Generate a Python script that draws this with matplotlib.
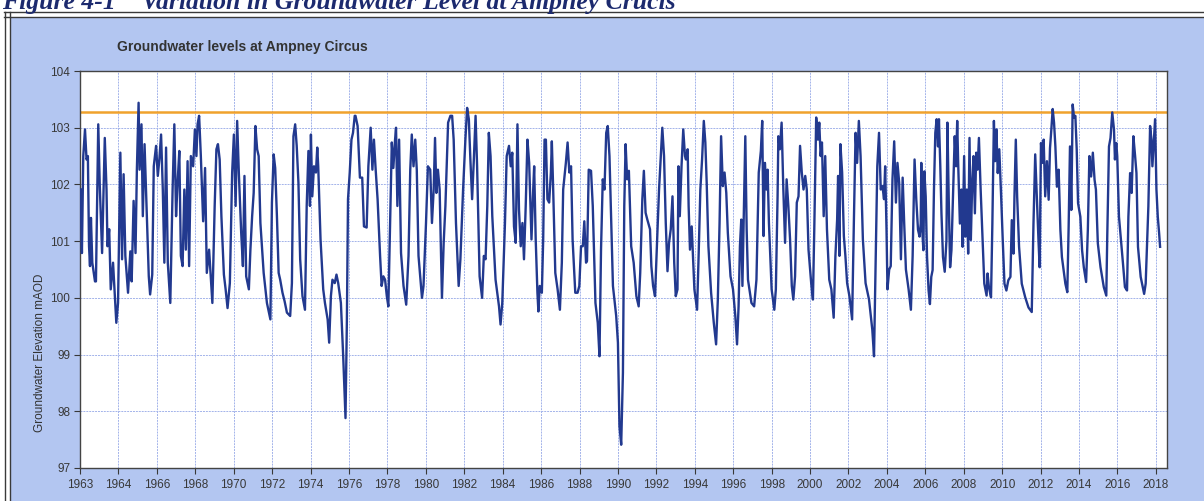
import matplotlib.pyplot as plt
from matplotlib.patches import Rectangle
from matplotlib.lines import Line2D
import numpy as np

# groundwater level readings (decimal year, m AOD)
years = [
    1962.03, 1962.10, 1962.17, 1962.26, 1962.34, 1962.41, 1962.47, 1962.52, 1962.57, 1962.64,
    1962.78, 1962.83, 1962.95, 1963.03, 1963.15, 1963.29, 1963.38, 1963.43, 1963.52, 1963.60,
    1963.72, 1963.89, 1963.98, 1964.10, 1964.19, 1964.27, 1964.36, 1964.50, 1964.62, 1964.69,
    1964.79, 1964.89, 1964.96, 1965.05, 1965.10, 1965.20, 1965.27, 1965.36, 1965.45, 1965.58,
    1965.65, 1965.76, 1965.84, 1965.96, 1966.05, 1966.13, 1966.22, 1966.31, 1966.39, 1966.48,
    1966.57, 1966.70, 1966.82, 1966.91, 1967.00, 1967.08, 1967.17, 1967.25, 1967.34, 1967.43,
    1967.51, 1967.60, 1967.68, 1967.77, 1967.89, 1967.98, 1968.06, 1968.12, 1968.20, 1968.29,
    1968.41, 1968.51, 1968.60, 1968.72, 1968.89, 1969.01, 1969.10, 1969.18, 1969.27, 1969.36,
    1969.49, 1969.58, 1969.68, 1969.80, 1969.92, 1970.01, 1970.10, 1970.18, 1970.27, 1970.39,
    1970.48, 1970.56, 1970.65, 1970.79, 1970.87, 1970.96, 1971.04, 1971.13, 1971.22, 1971.30,
    1971.39, 1971.56, 1971.73, 1971.91, 1971.99, 1972.08, 1972.16, 1972.25, 1972.34, 1972.42,
    1972.54, 1972.65, 1972.77, 1972.94, 1973.03, 1973.11, 1973.20, 1973.28, 1973.37, 1973.46,
    1973.58, 1973.71, 1973.80, 1973.89, 1973.97, 1974.02, 1974.09, 1974.18, 1974.28, 1974.35,
    1974.40, 1974.52, 1974.66, 1974.75, 1974.89, 1974.97, 1975.06, 1975.14, 1975.26, 1975.35,
    1975.44, 1975.58, 1975.70, 1975.82, 1975.89, 1975.95, 1976.04, 1976.13, 1976.21, 1976.30,
    1976.34, 1976.45, 1976.57, 1976.69, 1976.78, 1976.92, 1977.01, 1977.13, 1977.22, 1977.30,
    1977.39, 1977.49, 1977.62, 1977.70, 1977.79, 1977.88, 1977.97, 1978.05, 1978.14, 1978.23,
    1978.31, 1978.40, 1978.45, 1978.52, 1978.61, 1978.71, 1978.84, 1978.98, 1979.10, 1979.19,
    1979.27, 1979.36, 1979.45, 1979.53, 1979.62, 1979.80, 1979.88, 1980.01, 1980.11, 1980.23,
    1980.32, 1980.41, 1980.48, 1980.55, 1980.63, 1980.72, 1980.84, 1980.93, 1981.02, 1981.16,
    1981.28, 1981.37, 1981.45, 1981.57, 1981.71, 1981.80, 1981.94, 1982.06, 1982.15, 1982.24,
    1982.32, 1982.41, 1982.50, 1982.59, 1982.67, 1982.80, 1982.93, 1983.02, 1983.11, 1983.20,
    1983.28, 1983.37, 1983.46, 1983.63, 1983.81, 1983.89, 1983.98, 1984.12, 1984.21, 1984.33,
    1984.42, 1984.50, 1984.59, 1984.68, 1984.77, 1984.85, 1984.94, 1985.03, 1985.11, 1985.20,
    1985.29, 1985.38, 1985.50, 1985.59, 1985.64, 1985.72, 1985.81, 1985.86, 1985.93, 1986.04,
    1986.11, 1986.18, 1986.25, 1986.33, 1986.42, 1986.51, 1986.56, 1986.63, 1986.74, 1986.86,
    1986.98, 1987.08, 1987.15, 1987.29, 1987.38, 1987.47, 1987.56, 1987.64, 1987.78, 1987.90,
    1987.99, 1988.08, 1988.17, 1988.25, 1988.34, 1988.39, 1988.48, 1988.60, 1988.69, 1988.83,
    1988.95, 1989.04, 1989.12, 1989.21, 1989.30, 1989.39, 1989.47, 1989.56, 1989.74, 1989.91,
    1990.00, 1990.08, 1990.17, 1990.26, 1990.33, 1990.40, 1990.48, 1990.57, 1990.69, 1990.82,
    1990.96, 1991.08, 1991.16, 1991.27, 1991.35, 1991.44, 1991.53, 1991.67, 1991.74, 1991.83,
    1991.93, 1992.02, 1992.14, 1992.23, 1992.31, 1992.40, 1992.49, 1992.58, 1992.66, 1992.75,
    1992.84, 1992.93, 1993.01, 1993.10, 1993.15, 1993.22, 1993.31, 1993.40, 1993.49, 1993.54,
    1993.63, 1993.68, 1993.75, 1993.84, 1993.98, 1994.12, 1994.20, 1994.29, 1994.38, 1994.47,
    1994.55, 1994.62, 1994.71, 1994.85, 1994.99, 1995.11, 1995.20, 1995.29, 1995.37, 1995.46,
    1995.55, 1995.64, 1995.72, 1995.86, 1995.99, 1996.11, 1996.20, 1996.28, 1996.35, 1996.42,
    1996.48, 1996.56, 1996.63, 1996.70, 1996.77, 1996.95, 1997.09, 1997.21, 1997.33, 1997.44,
    1997.51, 1997.58, 1997.65, 1997.73, 1997.79, 1997.86, 1998.00, 1998.14, 1998.22, 1998.31,
    1998.35, 1998.43, 1998.52, 1998.61, 1998.70, 1998.78, 1998.87, 1998.96, 1999.05, 1999.13,
    1999.22, 1999.31, 1999.40, 1999.48, 1999.57, 1999.66, 1999.75, 1999.83, 1999.92, 2000.06,
    2000.15, 2000.22, 2000.32, 2000.41, 2000.48, 2000.55, 2000.62, 2000.71, 2000.79, 2000.88,
    2001.00, 2001.11, 2001.23, 2001.32, 2001.41, 2001.46, 2001.53, 2001.58, 2001.67, 2001.76,
    2001.84, 2001.93, 2002.05, 2002.19, 2002.28, 2002.37, 2002.45, 2002.54, 2002.63, 2002.75,
    2002.89, 2003.07, 2003.24, 2003.33, 2003.42, 2003.50, 2003.59, 2003.68, 2003.77, 2003.85,
    2003.91, 2003.98, 2004.03, 2004.12, 2004.20, 2004.29, 2004.38, 2004.47, 2004.55, 2004.64,
    2004.73, 2004.82, 2004.90, 2004.99, 2005.13, 2005.25, 2005.34, 2005.44, 2005.53, 2005.62,
    2005.70, 2005.76, 2005.79, 2005.84, 2005.90, 2005.95, 2006.02, 2006.09, 2006.17, 2006.24,
    2006.31, 2006.38, 2006.45, 2006.52, 2006.59, 2006.66, 2006.71, 2006.78, 2006.84, 2006.92,
    2007.01, 2007.10, 2007.15, 2007.22, 2007.29, 2007.36, 2007.45, 2007.50, 2007.53, 2007.60,
    2007.66, 2007.71, 2007.80, 2007.88, 2007.94, 2008.02, 2008.09, 2008.16, 2008.23, 2008.30,
    2008.37, 2008.44, 2008.51, 2008.58, 2008.65, 2008.72, 2008.79, 2008.88, 2008.98, 2009.07,
    2009.19, 2009.24, 2009.31, 2009.42, 2009.49, 2009.57, 2009.63, 2009.70, 2009.77, 2009.85,
    2009.94, 2010.03, 2010.12, 2010.22, 2010.32, 2010.43, 2010.50, 2010.59, 2010.64, 2010.71,
    2010.78, 2010.88, 2011.02, 2011.20, 2011.37, 2011.54, 2011.63, 2011.72, 2011.81, 2011.89,
    2011.95, 2012.02, 2012.10, 2012.16, 2012.24, 2012.33, 2012.42, 2012.49, 2012.56, 2012.63,
    2012.70, 2012.77, 2012.85, 2012.94, 2013.03, 2013.11, 2013.29, 2013.39, 2013.46, 2013.53,
    2013.60, 2013.67, 2013.74, 2013.81, 2013.88, 2013.95, 2014.07, 2014.16, 2014.25, 2014.37,
    2014.46, 2014.54, 2014.63, 2014.72, 2014.81, 2014.88, 2014.98, 2015.12, 2015.29, 2015.42,
    2015.47, 2015.56, 2015.64, 2015.73, 2015.82, 2015.87, 2015.94, 2015.99, 2016.08, 2016.17,
    2016.29, 2016.39, 2016.50, 2016.57, 2016.66, 2016.74, 2016.83, 2016.92, 2016.99, 2017.07,
    2017.21, 2017.39, 2017.47, 2017.61, 2017.70, 2017.77, 2017.82, 2017.89, 2017.96, 2018.03,
    2018.10, 2018.17, 2018.22,
]
levels = [
    101.91, 100.79, 102.50, 102.97, 102.44, 102.50, 100.91, 100.56, 101.41, 100.62,
    100.29, 100.29, 103.06, 101.97, 100.79, 102.82, 101.91, 100.91, 101.21, 100.15,
    100.62, 99.56, 99.91, 102.56, 100.68, 102.18, 100.74, 100.09, 100.82, 100.29,
    101.71, 100.79, 102.26, 103.44, 102.26, 103.06, 101.44, 102.71, 101.74, 100.38,
    100.06, 100.41, 102.32, 102.68, 102.15, 102.44, 102.88, 101.91, 100.62, 102.65,
    100.62, 99.91, 101.91, 103.06, 101.44, 102.03, 102.59, 100.74, 100.56, 101.91,
    100.85, 102.41, 100.56, 102.50, 102.32, 102.97, 102.50, 103.06, 103.21, 102.50,
    101.35, 102.29, 100.44, 100.85, 99.91, 101.62, 102.62, 102.71, 102.44, 101.44,
    100.41, 100.15, 99.82, 100.26, 102.21, 102.88, 101.62, 103.12, 102.18, 101.15,
    100.56, 102.15, 100.38, 100.15, 100.85, 101.44, 101.85, 103.03, 102.62, 102.50,
    101.32, 100.44, 99.91, 99.62, 101.68, 102.53, 102.29, 101.44, 100.44, 100.32,
    100.09, 99.94, 99.74, 99.68, 100.26, 102.85, 103.06, 102.68, 102.03, 100.68,
    100.03, 99.79, 101.62, 102.59, 101.62, 102.88, 101.79, 102.32, 102.21, 102.65,
    102.32, 101.03, 100.15, 99.91, 99.62, 99.21, 100.03, 100.32, 100.26, 100.41,
    100.26, 99.91, 98.97, 97.88, 99.56, 101.74, 102.21, 102.79, 102.91, 103.21,
    103.21, 103.03, 102.12, 102.12, 101.26, 101.24, 102.32, 103.00, 102.26, 102.79,
    102.26, 101.74, 100.74, 100.21, 100.38, 100.32, 100.03, 99.85, 101.32, 102.74,
    102.29, 102.79, 103.00, 101.62, 102.79, 100.79, 100.21, 99.88, 100.74, 102.26,
    102.88, 102.32, 102.79, 102.26, 100.74, 100.00, 100.21, 101.32, 102.32, 102.26,
    101.32, 101.91, 102.82, 101.85, 102.26, 101.91, 100.00, 100.97, 101.62, 103.09,
    103.21, 103.21, 102.79, 101.32, 100.21, 100.68, 101.91, 102.79, 103.35, 103.15,
    102.44, 101.74, 102.44, 103.21, 102.32, 100.38, 100.00, 100.74, 100.68, 101.62,
    102.91, 102.50, 101.44, 100.32, 99.85, 99.53, 99.91, 101.32, 102.50, 102.68,
    102.32, 102.56, 101.26, 100.97, 103.06, 101.56, 100.91, 101.32, 100.68, 101.62,
    102.79, 102.38, 101.03, 101.91, 102.32, 101.03, 100.09, 99.76, 100.21, 100.09,
    101.03, 102.79, 102.79, 101.74, 101.68, 102.21, 102.76, 101.91, 100.44, 100.15,
    99.79, 100.62, 101.91, 102.38, 102.74, 102.21, 102.32, 101.03, 100.09, 100.09,
    100.21, 100.91, 100.91, 101.35, 100.62, 100.65, 102.26, 102.24, 101.62, 99.91,
    99.56, 98.97, 100.85, 102.09, 101.91, 102.91, 103.03, 102.50, 100.21, 99.68,
    99.21, 97.74, 97.41, 98.68, 101.62, 102.71, 102.09, 102.24, 100.91, 100.62,
    100.03, 99.85, 100.44, 101.74, 102.24, 101.50, 101.38, 101.21, 100.56, 100.21,
    100.03, 100.85, 101.91, 102.50, 103.00, 102.50, 101.32, 100.47, 100.97, 101.21,
    101.79, 100.62, 100.03, 100.15, 102.32, 101.44, 102.32, 102.97, 102.50, 102.44,
    102.62, 101.62, 100.85, 101.26, 100.15, 99.79, 100.74, 101.91, 102.44, 103.12,
    102.74, 102.03, 100.91, 100.09, 99.56, 99.18, 99.97, 101.32, 102.85, 101.97,
    102.21, 101.85, 101.15, 100.38, 100.15, 99.68, 99.18, 99.85, 100.91, 101.38,
    100.21, 101.62, 102.85, 101.21, 100.32, 99.91, 99.85, 100.32, 102.21, 102.59,
    103.12, 101.09, 102.38, 101.91, 102.26, 101.32, 100.15, 99.79, 100.15, 101.79,
    102.85, 102.62, 103.09, 101.91, 100.97, 102.09, 101.62, 101.03, 100.21, 99.97,
    100.38, 101.68, 101.79, 102.68, 102.21, 101.91, 102.15, 101.91, 100.85, 100.26,
    99.97, 101.21, 103.18, 102.79, 103.09, 102.50, 102.74, 101.44, 102.50, 101.21,
    100.32, 100.15, 99.65, 100.74, 101.38, 102.15, 100.74, 102.71, 102.21, 101.09,
    100.74, 100.26, 100.03, 99.62, 101.32, 102.91, 102.38, 103.12, 102.50, 101.03,
    100.26, 99.97, 99.44, 98.97, 100.74, 102.32, 102.91, 101.91, 101.97, 101.74,
    102.32, 101.21, 100.15, 100.50, 100.56, 102.09, 102.76, 101.68, 102.38, 102.03,
    100.68, 102.12, 101.32, 100.50, 100.15, 99.79, 100.74, 102.44, 101.73, 101.20,
    101.08, 101.31, 102.38, 101.20, 100.84, 102.23, 101.79, 100.72, 100.13, 99.89,
    100.37, 100.49, 101.91, 102.91, 103.15, 102.67, 103.15, 102.32, 101.49, 100.72,
    100.46, 101.02, 103.09, 101.73, 100.54, 100.84, 101.91, 102.44, 102.85, 102.32,
    103.12, 102.38, 101.31, 101.91, 100.90, 102.50, 101.08, 101.91, 100.78, 102.82,
    101.02, 102.02, 102.50, 101.49, 102.56, 102.26, 102.82, 101.91, 101.02, 100.25,
    100.04, 100.43, 100.19, 100.01, 101.31, 103.12, 102.41, 102.97, 102.20, 102.62,
    101.85, 101.02, 100.25, 100.13, 100.31, 100.37, 101.37, 100.78, 101.79, 102.79,
    101.79, 100.90, 100.25, 100.01, 99.83, 99.75, 101.31, 102.53, 101.73, 101.02,
    100.54, 102.73, 102.38, 102.79, 101.79, 102.41, 101.73, 102.64, 102.97, 103.33,
    103.09, 102.67, 101.96, 102.26, 101.20, 100.72, 100.25, 100.10, 101.25, 102.67,
    101.55, 103.41, 103.18, 103.21, 102.62, 101.67, 101.43, 100.84, 100.54, 100.28,
    101.20, 102.50, 102.14, 102.56, 102.08, 101.91, 100.96, 100.54, 100.19, 100.04,
    101.08, 102.67, 102.82, 103.27, 102.97, 102.44, 102.73, 102.50, 101.43, 101.08,
    100.60, 100.19, 100.13, 101.43, 102.20, 101.85, 102.85, 102.50, 102.20, 100.90,
    100.37, 100.07, 100.25, 101.61, 103.03, 102.79, 102.32, 102.73, 103.15, 101.91,
    101.43, 101.14, 100.90,
]
reference_level = 103.27

tick_years = list(range(1962, 2019, 2))
tick_labels = ["1963"] + [str(y) for y in range(1964, 2019, 2)]
y_ticks = [97, 98, 99, 100, 101, 102, 103, 104]

W, H = 1204, 501
fig = plt.figure(figsize=(W / 100, H / 100), dpi=100)
fig.patch.set_facecolor("white")

# blue scanned panel with double border
fig.add_artist(Rectangle((11 / W, 0), 1 - 11 / W, 1 - 18 / H,
                         transform=fig.transFigure, facecolor="#b3c6f1",
                         edgecolor="none", zorder=-2))
for yy in (12, 17):
    fig.add_artist(Line2D([4 / W, 1], [1 - yy / H] * 2, transform=fig.transFigure,
                          color="#3a3a3a", lw=1.0))
for xx in (5, 10):
    fig.add_artist(Line2D([xx / W] * 2, [0, 1 - 12 / H], transform=fig.transFigure,
                          color="#3a3a3a", lw=1.0))

fig.text(2 / W, 1 - 9 / H, "Figure 4-1    Variation in Groundwater Level at Ampney Crucis",
         family="Liberation Serif", style="italic", weight="bold", fontsize=18.5,
         color="#1c2a6e", va="baseline", ha="left")

ax = fig.add_axes([80 / W, (H - 468) / H, 1087 / W, 397 / H])
ax.set_facecolor("white")

ax.plot(years, levels, color="#22398f", lw=1.7, zorder=3)
ax.axhline(reference_level, color="#f0a22c", lw=1.8, zorder=2)

ax.set_xlim(1962, 2018.58)
ax.set_ylim(97, 104)
ax.set_xticks(tick_years)
ax.set_xticklabels(tick_labels)
ax.set_yticks(y_ticks)
ax.grid(True, color="#a3b3ea", lw=0.7, ls=(0, (2, 1)))
ax.set_axisbelow(True)
ax.tick_params(axis="both", labelsize=8.5, colors="#383838", length=4, width=0.8)
ax.tick_params(axis="y", pad=3)
ax.tick_params(axis="x", pad=4)
for lab in ax.get_xticklabels() + ax.get_yticklabels():
    lab.set_family("Liberation Sans")
for sp in ax.spines.values():
    sp.set_color("#444444")
    sp.set_linewidth(1.0)

fig.text(117 / W, 1 - 47 / H, "Groundwater levels at Ampney Circus",
         family="Liberation Sans", weight="bold", fontsize=10, color="#333333",
         va="center", ha="left")
fig.text(40 / W, 1 - 353 / H, "Groundwater Elevation mAOD", rotation=90,
         family="Liberation Sans", fontsize=8.5, color="#333333",
         va="center", ha="center")

fig.savefig("out.png", dpi=100)
